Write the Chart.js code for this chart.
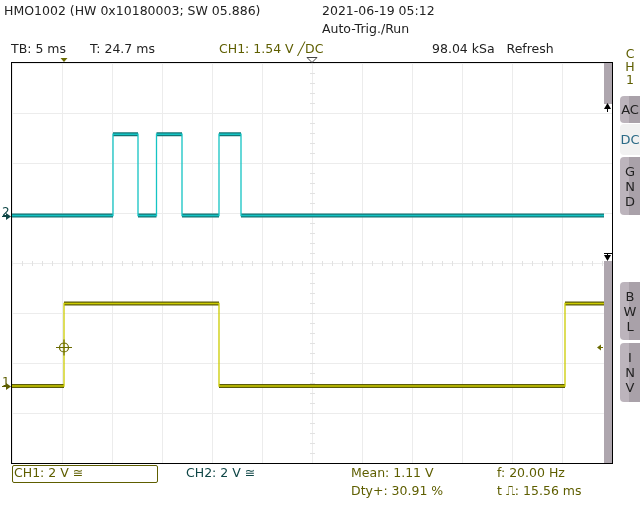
<!DOCTYPE html>
<html>
<head>
<meta charset="utf-8">
<script src="https://cdn.jsdelivr.net/npm/chart.js@4.4.1/dist/chart.umd.min.js"></script>
<style>
body { margin: 0; background: #fff; }
#wrap { position: relative; width: 640px; height: 520px; overflow: hidden; font-family: "DejaVu Sans", sans-serif; font-size: 12.5px; color: #222; }
#scope { position: absolute; left: 0; top: 0; }
.t { position: absolute; white-space: nowrap; line-height: 14px; }
.ol { color: #5e5e00; }
.tl { color: #0f4646; }
.btn { position: absolute; left: 620px; width: 20px; border-radius: 4px 0 0 4px;
       background: linear-gradient(to right, #bcb4bc 0, #bcb4bc 9px, #a9a1a9 9px);
       text-align: center; line-height: 15px; color: #222; font-size: 13px; }
.btn.on { background: #f1f1f1; color: #2a6a86; }
#box { position: absolute; left: 12px; top: 465px; width: 144px; height: 16px; border: 1px solid #5e5e00; border-radius: 2px; }
</style>
</head>
<body>
<div id="wrap">
  <canvas id="scope" width="640" height="520"></canvas>

  <div class="t" style="left:4px;top:4px">HMO1002 (HW 0x10180003; SW 05.886)</div>
  <div class="t" style="left:322px;top:4px">2021-06-19 05:12</div>
  <div class="t" style="left:322px;top:22px">Auto-Trig./Run</div>

  <div class="t" style="left:11px;top:42px">TB: 5 ms</div>
  <div class="t" style="left:90px;top:42px">T: 24.7 ms</div>
  <div class="t ol" style="left:219px;top:42px">CH1: 1.54 V ╱DC</div>
  <div class="t" style="left:432px;top:42px">98.04 kSa&nbsp;&nbsp; Refresh</div>

  <div class="t ol" style="left:624px;top:47px;line-height:13px;text-align:center;width:12px">C<br>H<br>1</div>

  <div class="btn" style="top:96px;height:27px;line-height:27px">AC</div>
  <div class="btn on" style="top:124px;height:31px;line-height:31px">DC</div>
  <div class="btn" style="top:157px;height:58px;padding-top:7px;box-sizing:border-box">G<br>N<br>D</div>
  <div class="btn" style="top:282px;height:58px;padding-top:7px;box-sizing:border-box">B<br>W<br>L</div>
  <div class="btn" style="top:343px;height:59px;padding-top:7px;box-sizing:border-box">I<br>N<br>V</div>

  <div id="box"></div>
  <div class="t ol" style="left:14px;top:466px">CH1: 2 V ≅</div>
  <div class="t tl" style="left:186px;top:466px">CH2: 2 V ≅</div>
  <div class="t ol" style="left:351px;top:466px">Mean: 1.11 V</div>
  <div class="t ol" style="left:351px;top:484px">Dty+: 30.91 %</div>
  <div class="t ol" style="left:497px;top:466px">f: 20.00 Hz</div>
  <div class="t ol" style="left:497px;top:484px">t ⎍: 15.56 ms</div>
</div>

<script>
// time base and vertical settings
const msPerDiv = 5;
const timeSpan = 60;          // 12 divisions
const voltsPerDiv = 2;
const ch1Offset = -2.46;      // ground marker, in divisions from centre
const ch2Offset = 0.95;
const triggerTime = 5.2;      // ms
const triggerLevel = 1.54;    // V on CH1

// CH1 (yellow) square wave, 20 Hz
const ch1Times = [0, 5.2, 5.2, 20.7, 20.7, 55.3, 55.3, 59.2];
const ch1Volts = [0, 0, 3.3, 3.3, 0, 0, 3.3, 3.3];

// CH2 (cyan) pulse burst
const ch2Times = [0, 10.1, 10.1, 12.6, 12.6, 14.45, 14.45, 17.0, 17.0, 20.7, 20.7, 22.9, 22.9, 59.2];
const ch2Volts = [0, 0, 3.25, 3.25, 0, 0, 3.25, 3.25, 0, 0, 3.25, 3.25, 0, 0];

function toPoints(times, volts, offset) {
    return times.map((t, i) => ({ x: t, y: offset + volts[i] / voltsPerDiv }));
}

// dark persistence band only on the flat parts of a trace
const flatOnly = color => ctx => ctx.p0.parsed.x === ctx.p1.parsed.x ? 'rgba(0,0,0,0)' : color;

const scopeDecor = {
    id: 'scopeDecor',
    beforeDatasetsDraw(chart) {
        const { ctx, scales: { x, y } } = chart;
        const cx = Math.round(x.getPixelForValue(timeSpan / 2));
        const cy = Math.round(y.getPixelForValue(0));
        ctx.save();
        ctx.fillStyle = '#e2e2e2';
        for (let t = 0; t <= timeSpan; t += 1) {
            const px = Math.round(x.getPixelForValue(t));
            ctx.fillRect(px, cy - 2, 1, 5);
        }
        for (let d = -4; d <= 4.001; d += 0.2) {
            const py = Math.round(y.getPixelForValue(d));
            ctx.fillRect(cx - 2, py, 5, 1);
        }
        ctx.restore();
    },
    afterDatasetsDraw(chart) {
        const { ctx, chartArea: a, scales: { x, y } } = chart;
        ctx.save();

        // scroll bar on the right
        ctx.fillStyle = '#aea6ae';
        ctx.fillRect(604, a.top, 8, 41);
        ctx.fillRect(604, 261, 8, a.bottom - 261);
        ctx.fillStyle = '#000';
        ctx.beginPath();
        ctx.moveTo(607.5, 103); ctx.lineTo(611, 109); ctx.lineTo(604, 109); ctx.closePath(); ctx.fill();
        ctx.fillRect(607, 109, 1, 3);
        ctx.fillRect(604, 253, 8, 1);
        ctx.fillRect(607, 253, 1, 3);
        ctx.beginPath();
        ctx.moveTo(604, 255); ctx.lineTo(611, 255); ctx.lineTo(607.5, 261); ctx.closePath(); ctx.fill();

        // screen frame
        ctx.fillStyle = '#000';
        ctx.fillRect(a.left - 1, a.top - 1, a.right - a.left + 2, 1);
        ctx.fillRect(a.left - 1, a.bottom, a.right - a.left + 2, 1);
        ctx.fillRect(a.left - 1, a.top - 1, 1, a.bottom - a.top + 2);
        ctx.fillRect(a.right, a.top - 1, 1, a.bottom - a.top + 2);

        // trigger position markers on top
        const tx = x.getPixelForValue(triggerTime);
        ctx.fillStyle = '#6a6a00';
        ctx.beginPath();
        ctx.moveTo(tx - 3.5, 58); ctx.lineTo(tx + 3.5, 58); ctx.lineTo(tx, 62); ctx.closePath(); ctx.fill();
        const mx = x.getPixelForValue(timeSpan / 2);
        ctx.strokeStyle = '#444';
        ctx.lineWidth = 1;
        ctx.beginPath();
        ctx.moveTo(mx - 5, 57.5); ctx.lineTo(mx + 5, 57.5); ctx.lineTo(mx, 62.5); ctx.closePath(); ctx.stroke();

        // trigger crosshair
        const ty = y.getPixelForValue(ch1Offset + triggerLevel / voltsPerDiv);
        ctx.strokeStyle = '#6a6a00';
        ctx.lineWidth = 1.2;
        ctx.beginPath();
        ctx.arc(tx, ty, 4.5, 0, Math.PI * 2);
        ctx.moveTo(tx - 8, ty); ctx.lineTo(tx + 8, ty);
        ctx.moveTo(tx, ty - 8); ctx.lineTo(tx, ty + 8);
        ctx.stroke();

        // trigger level marker on the right
        ctx.fillStyle = '#6a6a00';
        ctx.beginPath();
        ctx.moveTo(597, ty); ctx.lineTo(601, ty - 3); ctx.lineTo(601, ty + 3); ctx.closePath(); ctx.fill();
        ctx.fillRect(600, ty - 0.5, 3, 1);

        // ground markers
        const groundMark = (offset, label, color) => {
            const gy = Math.round(y.getPixelForValue(offset));
            ctx.fillStyle = color;
            ctx.font = '12px "DejaVu Sans"';
            ctx.textBaseline = 'alphabetic';
            ctx.fillText(label, 2, gy);
            ctx.fillRect(2, gy, 7, 1);
            ctx.beginPath();
            ctx.moveTo(6, gy - 3); ctx.lineTo(11, gy + 0.5); ctx.lineTo(6, gy + 4); ctx.closePath(); ctx.fill();
        };
        groundMark(ch1Offset, '1', '#5e5e00');
        groundMark(ch2Offset, '2', '#0f4646');

        ctx.restore();
    }
};

const ctx = document.getElementById('scope').getContext('2d');

new Chart(ctx, {
    type: 'line',
    data: {
        datasets: [
            {
                label: 'CH1',
                data: toPoints(ch1Times, ch1Volts, ch1Offset),
                borderColor: '#cccc00',
                borderWidth: 1.3,
                order: 0
            },
            {
                label: 'CH2',
                data: toPoints(ch2Times, ch2Volts, ch2Offset),
                borderColor: '#14c4c4',
                borderWidth: 1.3,
                order: 0
            },
            {
                label: 'CH1 band',
                data: toPoints(ch1Times, ch1Volts, ch1Offset),
                borderColor: '#5c5c0a',
                borderWidth: 4,
                segment: { borderColor: flatOnly('#5c5c0a') },
                order: 2
            },
            {
                label: 'CH2 band',
                data: toPoints(ch2Times, ch2Volts, ch2Offset),
                borderColor: '#137474',
                borderWidth: 4,
                segment: { borderColor: flatOnly('#137474') },
                order: 2
            }
        ]
    },
    options: {
        responsive: false,
        animation: false,
        devicePixelRatio: 1,
        events: [],
        elements: { point: { radius: 0 }, line: { tension: 0, borderCapStyle: 'butt' } },
        layout: { padding: { left: 12, right: 28, top: 63, bottom: 57 } },
        scales: {
            x: {
                type: 'linear',
                min: 0,
                max: timeSpan,
                ticks: { display: false, stepSize: msPerDiv },
                grid: { color: '#ececec', lineWidth: 1, drawTicks: false },
                border: { display: false },
                afterFit: s => { s.height = 0; }
            },
            y: {
                min: -4,
                max: 4,
                ticks: { display: false, stepSize: 1 },
                grid: { color: '#ececec', lineWidth: 1, drawTicks: false },
                border: { display: false },
                afterFit: s => { s.width = 0; }
            }
        },
        plugins: {
            legend: { display: false },
            tooltip: { enabled: false }
        }
    },
    plugins: [scopeDecor]
});
</script>
</body>
</html>
